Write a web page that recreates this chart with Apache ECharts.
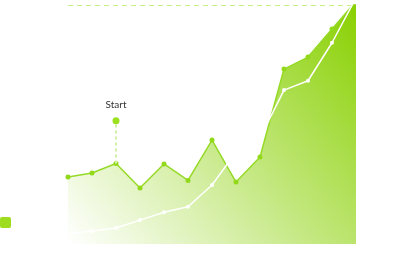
<!DOCTYPE html>
<html>
<head>
<meta charset="utf-8">
<script src="https://cdn.jsdelivr.net/npm/echarts@6/dist/echarts.min.js"></script>
<style>html,body{margin:0;padding:0;background:#fff}#c{width:419px;height:274px}</style>
</head>
<body>
<div id="c"></div>
<script>
var categories = ['1','2','3','4','5','6','7','8','9','10','11','12','13'];
var areaValues = [28.0, 29.7, 33.7, 23.4, 33.5, 26.6, 43.5, 25.9, 36.4, 73.2, 78.2, 90.0, 101.5];
var lineValues = [4.3, 5.4, 6.7, 10.0, 13.3, 15.6, 24.7, 38.5, 44.4, 64.4, 68.3, 84.2, 103];
var startIndex = 2;
var startTop = 51.6;
var startLabel = 'Start';

var chart = echarts.init(document.getElementById('c'), null, {renderer: 'canvas'});
chart.setOption({
  animation: false,
  backgroundColor: '#ffffff',
  grid: {left: 68, right: 63, top: 5, bottom: 30},
  xAxis: {type: 'category', data: categories, boundaryGap: false, show: false},
  yAxis: {
    type: 'value', min: 0, max: 100, interval: 100,
    axisLine: {show: false}, axisTick: {show: false}, axisLabel: {show: false},
    splitLine: {show: true, lineStyle: {color: ['rgba(0,0,0,0)', '#c8ee8a'], type: [5, 4], width: 1.2}}
  },
  graphic: [{
    type: 'rect', left: 0, top: 217, shape: {width: 11, height: 11, r: 2},
    style: {fill: '#9ddc1e'}
  }],
  series: [{
    type: 'line',
    data: areaValues,
    clip: true,
    symbol: 'circle',
    symbolSize: 5,
    itemStyle: {color: '#92d91a', borderWidth: 0},
    lineStyle: {color: '#96da28', width: 1.5},
    areaStyle: {
      opacity: 1,
      color: new echarts.graphic.LinearGradient(0, 1, 1, 0, [
        {offset: 0, color: 'rgba(140,210,10,0)'},
        {offset: 1, color: 'rgba(136,208,0,1)'}
      ])
    },
    markLine: {
      silent: true,
      symbol: 'none',
      data: [[
        {coord: [startIndex, areaValues[startIndex]]},
        {coord: [startIndex, startTop]}
      ]],
      lineStyle: {color: '#d3f0a8', type: [3, 3], width: 2, opacity: 1},
      label: {show: false}
    },
    markPoint: {
      silent: true,
      symbol: 'circle',
      symbolSize: 7,
      itemStyle: {color: '#9be01f'},
      data: [{coord: [startIndex, startTop], value: startLabel}],
      label: {show: true, position: 'top', distance: 7, formatter: startLabel, color: '#333', fontSize: 10, fontFamily: 'Lato, sans-serif'}
    },
    z: 2
  }, {
    type: 'line',
    data: lineValues,
    clip: true,
    symbol: 'circle',
    symbolSize: 4,
    itemStyle: {color: '#ffffff', borderWidth: 0},
    lineStyle: {color: '#ffffff', width: 1.5},
    z: 3
  }]
});
</script>
</body>
</html>
